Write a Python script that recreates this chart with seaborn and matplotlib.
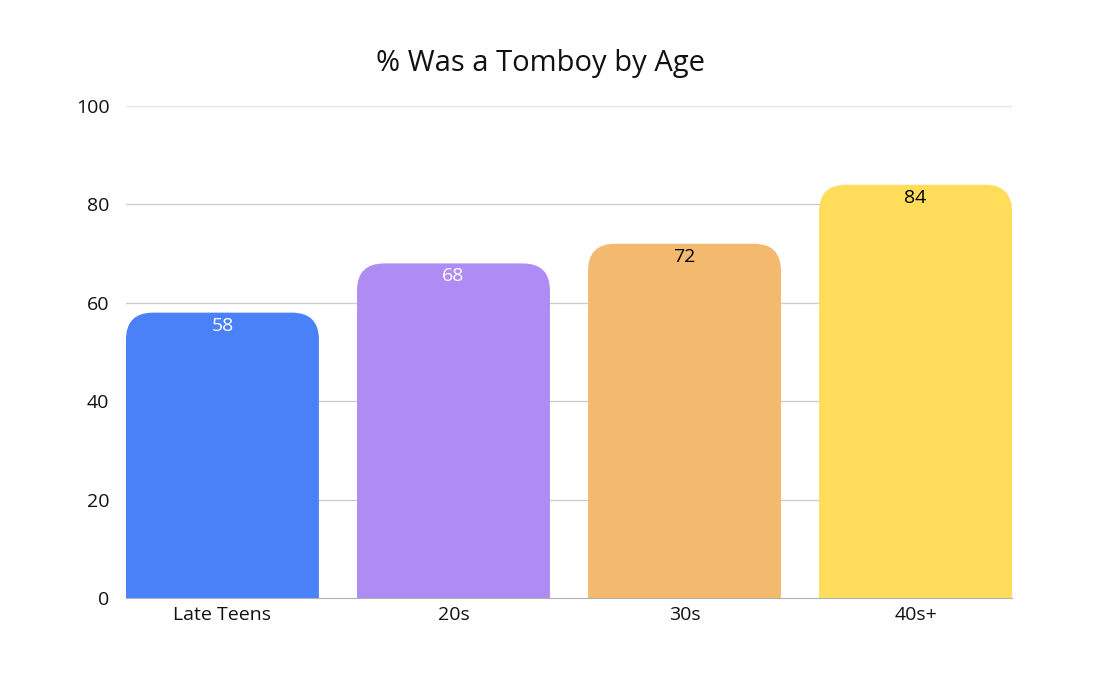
import matplotlib
matplotlib.use('Agg')
import matplotlib.pyplot as plt
import seaborn as sns
import pandas as pd
from matplotlib.path import Path
from matplotlib.patches import PathPatch

sns.set_style('white')
plt.rcParams['font.family'] = ['Open Sans', 'DejaVu Sans']

# ---------- Data ----------
ages = ['Late Teens', '20s', '30s', '40s+']
pct_tomboy = [58, 68, 72, 84]
bar_colors = ['#4A80F8', '#AE8CF4', '#F3B96F', '#FFDC5A']
label_colors = ['white', 'white', 'black', 'black']
y_ticks = [0, 20, 40, 60, 80, 100]

df = pd.DataFrame({'age': ages, 'pct': pct_tomboy})

fig = plt.figure(figsize=(11, 6.87), dpi=100)
ax = fig.add_axes([126/1100, 1 - 598/687, (1012-126)/1100, (598-106)/687])

WIDTH = 0.835
sns.barplot(data=df, x='age', y='pct', hue='age', palette=bar_colors,
            width=WIDTH, saturation=1, legend=False, ax=ax, zorder=2)

ax.set_xlim(-WIDTH/2, len(ages) - 1 + WIDTH/2)
ax.set_ylim(0, 100)
ax.set_yticks(y_ticks)

# round the top corners: swap each bar for a path with rounded top corners
fig.canvas.draw()
px_x = ax.transData.transform((1, 0))[0] - ax.transData.transform((0, 0))[0]
px_y = ax.transData.transform((0, 1))[1] - ax.transData.transform((0, 0))[1]
r_px = 27
rx = r_px / px_x
ry = r_px / px_y
for i, p in enumerate(list(ax.patches)):
    x0, w, h = p.get_x(), p.get_width(), p.get_height()
    col = p.get_facecolor()
    p.set_visible(False)
    x1 = x0 + w
    verts = [(x0, 0), (x0, h - ry), (x0, h), (x0 + rx, h), (x1 - rx, h),
             (x1, h), (x1, h - ry), (x1, 0), (x0, 0)]
    codes = [Path.MOVETO, Path.LINETO, Path.CURVE3, Path.CURVE3, Path.LINETO,
             Path.CURVE3, Path.CURVE3, Path.LINETO, Path.CLOSEPOLY]
    ax.add_patch(PathPatch(Path(verts, codes), fc=col, ec='none', zorder=2))
    ax.text(x0 + w/2, h - 13/px_y, f'{pct_tomboy[i]}', ha='center', va='center',
            fontsize=14, color=label_colors[i], zorder=3)

# gridlines
for t in y_ticks[1:]:
    ax.axhline(t, color='#e2e2e2' if t == 100 else '#cccccc', lw=1, zorder=1)
for s in ['top', 'right', 'left']:
    ax.spines[s].set_visible(False)
ax.spines['bottom'].set_color('#b0b0b0')
ax.spines['bottom'].set_zorder(3)

ax.tick_params(axis='both', length=0, labelsize=14, colors='#111111')
ax.tick_params(axis='y', pad=12)
ax.tick_params(axis='x', pad=6)
ax.set_xlabel('')
ax.set_ylabel('')
fig.suptitle('% Was a Tomboy by Age', fontsize=21, x=541/1100, y=1 - 64/687,
             va='center', color='#111111')

plt.savefig('out.png', dpi=100)
plt.close()
